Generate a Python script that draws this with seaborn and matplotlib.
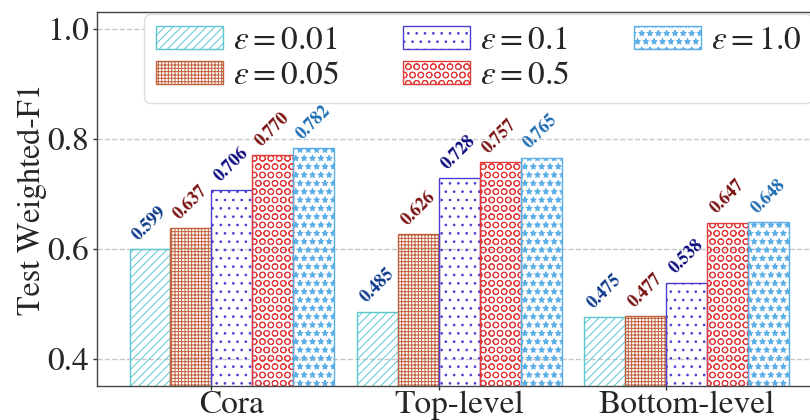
import numpy as np
import pandas as pd
import matplotlib
matplotlib.use("Agg")
import matplotlib.pyplot as plt
import matplotlib.patches as mpatches
from matplotlib.ticker import FixedLocator
import seaborn as sns

# ---- data ----
datasets = ["Cora", "Top-level", "Bottom-level"]
eps_levels = ["0.01", "0.05", "0.1", "0.5", "1.0"]
eps_001 = [0.599, 0.485, 0.475]
eps_005 = [0.637, 0.626, 0.477]
eps_01 = [0.706, 0.728, 0.538]
eps_05 = [0.770, 0.757, 0.647]
eps_10 = [0.782, 0.765, 0.648]
series = [eps_001, eps_005, eps_01, eps_05, eps_10]
y_ticks = [0.4, 0.6, 0.8, 1.0]

# ---- style ----
edge_colors = ["#5cc6cf", "#c0603c", "#4a3fd0", "#e23a3a", "#5aaee6"]
label_colors = ["#0d3b8c", "#7a1212", "#0b0b7e", "#7a1212", "#1f6db3"]
hatches = ["////", "+++++", "..", "OO", "**"]

sns.set_style("ticks")
plt.rcParams["font.family"] = ["STIXGeneral", "DejaVu Serif"]
plt.rcParams["mathtext.fontset"] = "stix"
plt.rcParams["hatch.linewidth"] = 0.7

rows = []
for lvl, vals in zip(eps_levels, series):
    for d, v in zip(datasets, vals):
        rows.append({"dataset": d, "eps": lvl, "value": v})
df = pd.DataFrame(rows)

fig = plt.figure(figsize=(8.1, 4.2), dpi=100)
ax = fig.add_axes([97 / 810, 34 / 420, (823 - 97) / 810, 374 / 420])

sns.barplot(data=df, x="dataset", y="value", hue="eps", order=datasets,
            hue_order=eps_levels, palette=edge_colors, width=0.9,
            errorbar=None, legend=False, ax=ax, zorder=2)

for i, cont in enumerate(ax.containers):
    for p in cont.patches:
        p.set_facecolor("none")
        p.set_edgecolor(edge_colors[i])
        p.set_hatch(hatches[i])
        p.set_linewidth(1.0)
    for p, v in zip(cont.patches, series[i]):
        ax.annotate(f"{v:.3f}", (p.get_x() + p.get_width() / 2, p.get_height()),
                    xytext=(0, 4), textcoords="offset points",
                    ha="center", va="bottom", rotation=45,
                    fontsize=13, fontweight="bold", color=label_colors[i])

bar_w = 0.9 / 5
ax.set_xlim(-0.593, 2.6)
ax.set_ylim(0.35, 1.03)
ax.set_yticks(y_ticks)
ax.set_yticklabels([f"{t:.1f}" for t in y_ticks])
ax.set_xlabel("")
ax.set_ylabel("Test Weighted-F1", fontsize=23, labelpad=0)

# tick marks at the group anchor, labels at group centre
ax.set_xticks(np.arange(len(datasets)))
ax.set_xticklabels(datasets)
ax.tick_params(axis="x", which="major", length=0, pad=3, labelsize=24)
ax.xaxis.set_minor_locator(FixedLocator(np.arange(len(datasets)) - bar_w / 2))
ax.tick_params(axis="x", which="minor", length=3, width=1, direction="out", color="#333333")
ax.tick_params(axis="y", length=3, width=1, pad=3, labelsize=24, color="#333333")

ax.grid(axis="y", linestyle="--", color="#c8c8c8", linewidth=1.0, zorder=0)
ax.set_axisbelow(True)
for s in ax.spines.values():
    s.set_color("#444444")
    s.set_linewidth(1.0)

handles = [mpatches.Patch(facecolor="white", edgecolor=c, hatch=h, linewidth=1.0)
           for c, h in zip(edge_colors, hatches)]
labels = [rf"$\varepsilon={l}$" for l in eps_levels]
leg = ax.legend(handles, labels, ncol=3, loc="upper left",
                bbox_to_anchor=(0.065, 0.995), borderaxespad=0,
                fontsize=24, handlelength=2.0, handleheight=0.7,
                handletextpad=0.3, columnspacing=1.95, labelspacing=0.15,
                frameon=True, fancybox=True, framealpha=1.0,
                borderpad=0.35)
leg.get_frame().set_edgecolor("#dddddd")
leg.get_frame().set_linewidth(1.0)

fig.savefig("out.png", dpi=100)
